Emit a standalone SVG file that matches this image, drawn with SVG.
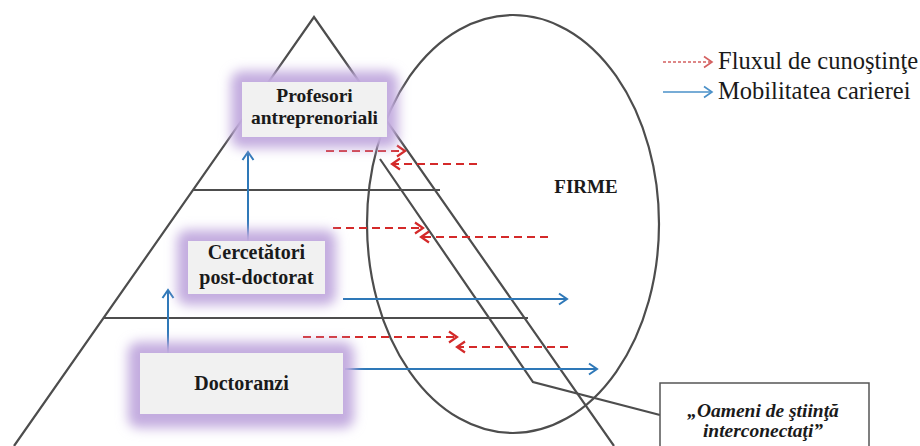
<svg xmlns="http://www.w3.org/2000/svg" width="920" height="446" viewBox="0 0 920 446">
<style>
.ln{fill:none;stroke:#4d4d4d;stroke-width:2.2}
.blue{fill:none;stroke:#2e78b8;stroke-width:2;marker-end:url(#ab)}
.red{fill:none;stroke:#d42a2a;stroke-width:2.2;stroke-dasharray:8 5;marker-end:url(#ar)}
.box{fill:#f1f1f1}
.glow{fill:#c3acdf;filter:url(#blur)}
.t{font-family:"Liberation Serif","Times New Roman",serif;font-weight:bold;fill:#1a1a1a;text-anchor:middle}
.lg{font-family:"Liberation Serif","Times New Roman",serif;font-size:24.5px;fill:#1a1a1a}
</style>
<defs>
<filter id="blur" x="-40%" y="-60%" width="180%" height="220%"><feGaussianBlur stdDeviation="6"/></filter>
<marker id="ab" markerWidth="14" markerHeight="14" refX="11" refY="7" orient="auto" markerUnits="userSpaceOnUse"><path d="M3,1.5 L11,7 L3,12.5" fill="none" stroke="#2e78b8" stroke-width="2"/></marker>
<marker id="ar" markerWidth="14" markerHeight="14" refX="11" refY="7" orient="auto" markerUnits="userSpaceOnUse"><path d="M3,1.5 L11,7 L3,12.5" fill="none" stroke="#d42a2a" stroke-width="2.2"/></marker>
<marker id="arl" markerWidth="14" markerHeight="14" refX="11" refY="7" orient="auto" markerUnits="userSpaceOnUse"><path d="M3,1.5 L11,7 L3,12.5" fill="none" stroke="#d46060" stroke-width="1.6"/></marker>
<marker id="abl" markerWidth="14" markerHeight="14" refX="11" refY="7" orient="auto" markerUnits="userSpaceOnUse"><path d="M3,1.5 L11,7 L3,12.5" fill="none" stroke="#4a90c8" stroke-width="1.6"/></marker>
</defs>
<rect width="920" height="446" fill="#ffffff"/>

<g id="background">
<polyline class="ln" points="14,446 314,17 614,446"/>
<line class="ln" x1="193" y1="190" x2="440" y2="190"/>
<line class="ln" x1="104" y1="318" x2="528" y2="318"/>
<ellipse class="ln" cx="513" cy="224" rx="146" ry="209"/>
<polyline class="ln" points="380,159 533,382 660,415"/>
</g>

<g id="firme"><text class="t" x="586" y="193" font-size="19">FIRME</text></g>

<g id="connectors">
<line class="blue" x1="168" y1="353" x2="168" y2="290"/>
<line class="blue" x1="248" y1="241" x2="248" y2="152"/>
<line class="blue" x1="343" y1="299" x2="567" y2="299"/>
<line class="blue" x1="345" y1="369" x2="597" y2="369"/>
<line class="red" x1="326" y1="151" x2="405" y2="151"/>
<line class="red" x1="477" y1="164" x2="392" y2="164"/>
<line class="red" x1="333" y1="228" x2="423" y2="228"/>
<line class="red" x1="548" y1="237" x2="421" y2="237"/>
<line class="red" x1="303" y1="337" x2="457" y2="337"/>
<line class="red" x1="568" y1="347" x2="457" y2="347"/>
</g>

<g id="profesori">
<rect class="glow" x="231" y="71" width="167" height="77" rx="10"/>
<rect class="box" x="242" y="82" width="145" height="55"/>
<text class="t" x="314.5" y="102" font-size="19.5">Profesori</text>
<text class="t" x="314.5" y="124" font-size="19.5">antreprenoriali</text>
</g>

<g id="cercetatori">
<rect class="glow" x="177" y="230" width="159" height="75" rx="10"/>
<rect class="box" x="188" y="241" width="137" height="53"/>
<text class="t" x="256.5" y="259" font-size="20">Cercetători</text>
<text class="t" x="256.5" y="284" font-size="20">post-doctorat</text>
</g>

<g id="doctoranzi">
<rect class="glow" x="128" y="342" width="226" height="86" rx="10"/>
<rect class="box" x="140" y="353" width="203" height="61"/>
<text class="t" x="241.5" y="390" font-size="20">Doctoranzi</text>
</g>

<g id="oameni">
<rect x="660" y="383" width="209" height="80" fill="#ffffff" stroke="#555555" stroke-width="1.5"/>
<text class="t" x="763" y="417" font-size="19.5" font-style="italic">„Oameni de ştiinţă</text>
<text class="t" x="763" y="437" font-size="19.5" font-style="italic">interconectaţi”</text>
</g>

<g id="legend">
<line x1="663" y1="62" x2="712" y2="62" stroke="#d46060" stroke-width="1.6" stroke-dasharray="3 2" marker-end="url(#arl)"/>
<text class="lg" x="718" y="69">Fluxul de cunoştinţe</text>
<line x1="663" y1="92" x2="712" y2="92" stroke="#4a90c8" stroke-width="1.6" marker-end="url(#abl)"/>
<text class="lg" x="718" y="99">Mobilitatea carierei</text>
</g>
</svg>
